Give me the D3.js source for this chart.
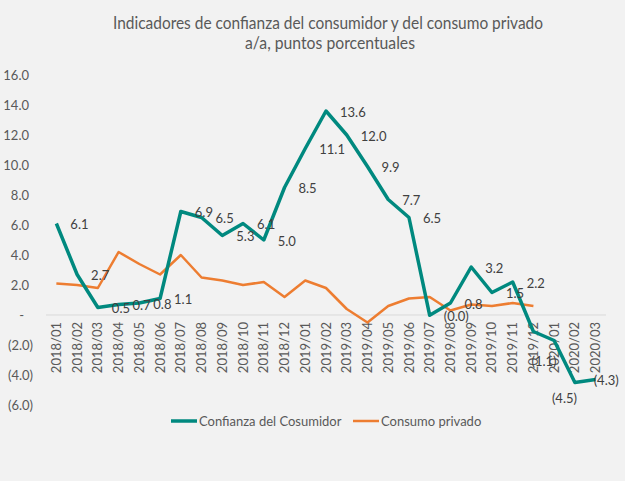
<!DOCTYPE html>
<html>
<head>
<meta charset="utf-8">
<script src="https://cdn.jsdelivr.net/npm/d3@7/dist/d3.min.js"></script>
<style>
  html, body { margin: 0; padding: 0; background: #f2f2f2; }
  svg { display: block; font-family: Lato, "Open Sans", sans-serif; }
</style>
</head>
<body>
<div id="chart"></div>
<script>
// categories (month labels)
var months = ['2018/01','2018/02','2018/03','2018/04','2018/05','2018/06','2018/07','2018/08','2018/09',
  '2018/10','2018/11','2018/12','2019/01','2019/02','2019/03','2019/04','2019/05','2019/06','2019/07',
  '2019/08','2019/09','2019/10','2019/11','2019/12','2020/01','2020/02','2020/03'];

// Confianza del Cosumidor, a/a
var confianza = [6.1, 2.7, 0.5, 0.7, 0.8, 1.1, 6.9, 6.5, 5.3, 6.1, 5.0, 8.5, 11.1, 13.6, 12.0, 9.9, 7.7, 6.5,
  -0.02, 0.8, 3.2, 1.5, 2.2, -1.1, -1.7, -4.5, -4.3];

// Consumo privado, a/a (until 2019/12)
var consumo = [2.1, 2.0, 1.8, 4.2, 3.4, 2.7, 4.0, 2.5, 2.3, 2.0, 2.2, 1.2, 2.3, 1.8, 0.4, -0.5, 0.6, 1.1,
  1.2, 0.3, 0.7, 0.6, 0.8, 0.6];

var yTicks = [16, 14, 12, 10, 8, 6, 4, 2, 0, -2, -4, -6];

var seriesNames = ['Confianza del Cosumidor', 'Consumo privado'];
var colors = ['#00897f', '#ed7d31'];

var W = 625, H = 481;
var svg = d3.select('#chart').append('svg').attr('width', W).attr('height', H);

var x = d3.scaleBand().domain(months).range([46, 606]).padding(0);
var y = d3.scaleLinear().domain([-6, 16]).range([405, 75]);
var cx = function(m){ return x(m) + x.bandwidth() / 2 };

function fmt(v){
  if (Math.abs(v) < 0.05) return v < 0 ? '(0.0)' : '-';
  return v < 0 ? '(' + d3.format('.1f')(-v) + ')' : d3.format('.1f')(v);
}

// title
svg.append('text').attr('x', 328).attr('y', 29).attr('text-anchor', 'middle')
  .attr('textLength', 430).attr('lengthAdjust', 'spacingAndGlyphs')
  .style('font-size', '16.5px').style('fill', '#595959')
  .text('Indicadores de confianza del consumidor y del consumo privado');
svg.append('text').attr('x', 330).attr('y', 49).attr('text-anchor', 'middle')
  .attr('textLength', 170).attr('lengthAdjust', 'spacingAndGlyphs')
  .style('font-size', '16.5px').style('fill', '#595959')
  .text('a/a, puntos porcentuales');

// y axis labels (accounting style)
svg.append('g').selectAll('text').data(yTicks).enter().append('text')
  .attr('x', function(d){ return d === 0 ? 24 : (d < 0 ? 33 : 29) })
  .attr('y', function(d){ return y(d) })
  .attr('dy', '0.35em')
  .attr('text-anchor', 'end')
  .style('font-size', '13px').style('fill', '#595959')
  .text(function(d){ return d === 0 ? '-' : fmt(d) });

// zero line
svg.append('line').attr('x1', 46).attr('x2', 606).attr('y1', y(0)).attr('y2', y(0))
  .style('stroke', '#d9d9d9').style('stroke-width', 1);

// x axis labels, rotated
svg.append('g').selectAll('text').data(months).enter().append('text')
  .attr('transform', function(d){ return 'translate(' + cx(d) + ',' + (y(0) + 7) + ') rotate(-90)' })
  .attr('dy', '0.35em')
  .attr('text-anchor', 'end')
  .style('font-size', '13px').style('fill', '#595959')
  .text(function(d){ return d });

var line = d3.line().x(function(d, i){ return cx(months[i]) }).y(function(d){ return y(d) });

svg.append('path').datum(consumo).attr('d', line)
  .style('fill', 'none').style('stroke', colors[1]).style('stroke-width', 2.5)
  .style('stroke-linejoin', 'round');
svg.append('path').datum(confianza).attr('d', line)
  .style('fill', 'none').style('stroke', colors[0]).style('stroke-width', 3.5)
  .style('stroke-linejoin', 'round');

// data labels: right of the point, a few moved by hand like in the original
var moved = {'2019/12': [-2, 30], '2020/02': [-23, 16], '2020/03': [-2, 1]};
var labelData = confianza.map(function(v, i){ return {m: months[i], v: v} })
  .filter(function(d){ return d.m !== '2020/01' });
svg.append('g').selectAll('text').data(labelData).enter().append('text')
  .attr('x', function(d){ var m = moved[d.m]; return cx(d.m) + (m ? m[0] : 14) })
  .attr('y', function(d){ var m = moved[d.m]; return y(d.v) + (m ? m[1] : 1) })
  .attr('dy', '0.35em')
  .style('font-size', '13px').style('fill', '#404040')
  .text(function(d){ return fmt(d.v) });

// legend
var legend = svg.append('g').attr('transform', 'translate(0,421)');
var lx = [171, 353];
seriesNames.forEach(function(n, i){
  legend.append('line').attr('x1', lx[i]).attr('x2', lx[i] + 26)
    .style('stroke', colors[i]).style('stroke-width', i ? 2.5 : 3.5);
  legend.append('text').attr('x', lx[i] + 28).attr('dy', '0.35em')
    .style('font-size', '13px').style('fill', '#595959').text(n);
});
</script>
</body>
</html>
